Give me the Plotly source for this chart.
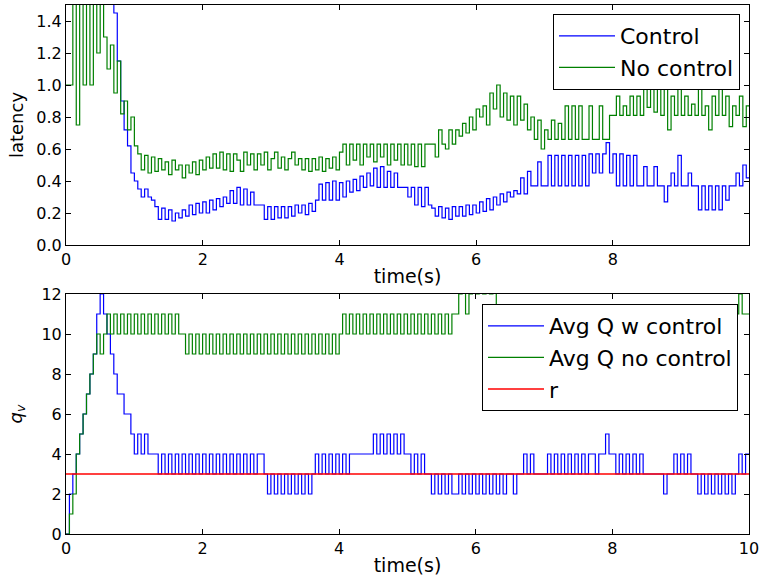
import numpy as np
import plotly.graph_objects as go

# sample times (s), step 0.05 s, plus closing point at 10 s
time_s = list(np.round(np.arange(0, 10.0, 0.05), 2)) + [10.0]

# Top panel: latency
latency_control = [
    2.0, 2.0, 2.0, 2.0, 2.0, 2.0, 2.0, 2.0, 2.0, 2.0,
    2.0, 2.0, 2.0, 2.0, 1.45, 1.15, 0.9, 0.72, 0.62, 0.45,
    0.4, 0.35, 0.3, 0.35, 0.3, 0.28, 0.24, 0.16, 0.23, 0.16,
    0.22, 0.15, 0.2, 0.17, 0.22, 0.18, 0.25, 0.19, 0.26, 0.2,
    0.27, 0.2, 0.28, 0.22, 0.29, 0.24, 0.3, 0.26, 0.34, 0.26,
    0.36, 0.25, 0.35, 0.25, 0.33, 0.25, 0.25, 0.25, 0.16, 0.24,
    0.16, 0.24, 0.17, 0.24, 0.17, 0.24, 0.18, 0.25, 0.2, 0.25,
    0.19, 0.26, 0.21, 0.28, 0.38, 0.28, 0.39, 0.28, 0.4, 0.28,
    0.39, 0.3, 0.4, 0.33, 0.41, 0.34, 0.43, 0.36, 0.45, 0.37,
    0.48, 0.36, 0.49, 0.36, 0.46, 0.36, 0.45, 0.36, 0.36, 0.36,
    0.3, 0.36, 0.25, 0.36, 0.24, 0.36, 0.25, 0.23, 0.18, 0.24,
    0.17, 0.23, 0.16, 0.24, 0.18, 0.24, 0.18, 0.25, 0.19, 0.25,
    0.2, 0.27, 0.21, 0.29, 0.22, 0.3, 0.25, 0.32, 0.27, 0.33,
    0.3, 0.34, 0.32, 0.42, 0.32, 0.46, 0.37, 0.37, 0.52, 0.37,
    0.37, 0.56, 0.37, 0.56, 0.37, 0.56, 0.37, 0.56, 0.37, 0.56,
    0.37, 0.56, 0.37, 0.57, 0.45, 0.57, 0.45, 0.57, 0.64, 0.45,
    0.57, 0.37, 0.57, 0.37, 0.56, 0.37, 0.56, 0.37, 0.37, 0.49,
    0.37, 0.37, 0.49, 0.37, 0.37, 0.27, 0.37, 0.45, 0.37, 0.56,
    0.37, 0.37, 0.45, 0.37, 0.37, 0.22, 0.37, 0.22, 0.37, 0.22,
    0.37, 0.22, 0.37, 0.28, 0.37, 0.37, 0.45, 0.37, 0.5, 0.42,
]
latency_nocontrol = [
    1.0, 1.0, 1.8, 0.75, 1.8, 1.0, 1.8, 1.0, 1.8, 1.2,
    1.6, 1.3, 1.1, 1.25, 0.95, 1.15, 0.82, 0.9, 0.72, 0.8,
    0.62, 0.57, 0.47, 0.56, 0.45, 0.55, 0.46, 0.54, 0.47, 0.52,
    0.44, 0.53, 0.47, 0.5, 0.42, 0.5, 0.45, 0.52, 0.44, 0.53,
    0.47, 0.55, 0.48, 0.57, 0.48, 0.58, 0.47, 0.57, 0.46, 0.57,
    0.53, 0.46, 0.58, 0.5, 0.57, 0.47, 0.57, 0.5, 0.58, 0.47,
    0.54, 0.58, 0.48, 0.55, 0.47, 0.54, 0.58, 0.5, 0.54, 0.47,
    0.54, 0.46, 0.54, 0.47, 0.55, 0.46, 0.54, 0.48, 0.55, 0.47,
    0.58, 0.63, 0.5, 0.63, 0.53, 0.63, 0.5, 0.63, 0.55, 0.63,
    0.52, 0.63, 0.55, 0.63, 0.5, 0.63, 0.53, 0.63, 0.5, 0.63,
    0.5, 0.63, 0.49, 0.63, 0.49, 0.63, 0.63, 0.63, 0.55, 0.72,
    0.63, 0.6, 0.72, 0.63, 0.72, 0.68, 0.76, 0.7, 0.8, 0.72,
    0.85, 0.8, 0.87, 0.75, 0.95, 0.85, 1.0, 0.8, 0.95, 0.78,
    0.93, 0.75, 0.93, 0.78, 0.88, 0.72, 0.8, 0.66, 0.78, 0.6,
    0.72, 0.66, 0.78, 0.66, 0.76, 0.66, 0.87, 0.66, 0.87, 0.66,
    0.87, 0.66, 0.66, 0.87, 0.66, 0.66, 0.87, 0.66, 0.66, 0.81,
    0.81, 0.93, 0.81, 0.87, 0.81, 0.93, 0.81, 0.93, 0.81, 1.0,
    0.86, 1.0, 0.83, 1.0, 0.81, 1.0, 0.72, 0.93, 0.81, 1.0,
    0.81, 0.93, 0.81, 0.88, 0.81, 1.0, 0.81, 0.87, 0.72, 0.93,
    0.81, 1.0, 0.81, 0.93, 0.74, 0.87, 0.81, 0.93, 0.74, 0.87,
]

# Bottom panel: average queue
q_control = [
    0, 2, 3, 4, 5, 6, 7, 8, 9, 11,
    12, 11, 10, 9, 8, 7, 7, 6, 6, 5,
    4, 5, 4, 5, 4, 4, 4, 3, 4, 3,
    4, 3, 4, 3, 4, 3, 4, 3, 4, 3,
    4, 3, 4, 3, 4, 3, 4, 3, 4, 3,
    4, 3, 4, 3, 4, 3, 4, 4, 3, 2,
    3, 2, 3, 2, 3, 2, 3, 2, 3, 2,
    3, 2, 3, 4, 3, 4, 3, 4, 3, 4,
    3, 4, 3, 4, 4, 4, 4, 4, 4, 4,
    5, 4, 5, 4, 5, 4, 5, 4, 5, 4,
    4, 3, 4, 3, 4, 3, 3, 2, 3, 2,
    3, 2, 3, 2, 2, 3, 2, 3, 2, 3,
    2, 3, 2, 3, 2, 3, 2, 3, 2, 3,
    3, 2, 3, 3, 4, 3, 4, 3, 3, 3,
    3, 4, 3, 4, 3, 4, 3, 4, 3, 4,
    3, 4, 3, 4, 4, 3, 4, 4, 5, 4,
    4, 3, 4, 3, 4, 3, 4, 3, 4, 3,
    3, 3, 3, 3, 3, 2, 3, 3, 4, 3,
    4, 3, 4, 3, 3, 2, 3, 2, 3, 2,
    3, 2, 3, 2, 3, 2, 3, 4, 3, 4,
]
q_nocontrol = [
    0, 1, 2, 4, 5, 6, 7, 8, 9, 10,
    9, 10, 11, 10, 11, 10, 11, 10, 11, 10,
    11, 10, 11, 10, 11, 10, 11, 10, 11, 10,
    11, 10, 11, 10, 10, 9, 10, 9, 10, 9,
    10, 9, 10, 9, 10, 9, 10, 9, 10, 9,
    10, 9, 10, 9, 10, 9, 10, 9, 10, 9,
    10, 9, 10, 9, 10, 9, 10, 9, 10, 9,
    10, 9, 10, 9, 10, 9, 10, 9, 10, 9,
    10, 11, 10, 11, 10, 11, 10, 11, 10, 11,
    10, 11, 10, 11, 10, 11, 10, 11, 10, 11,
    10, 11, 10, 11, 10, 11, 10, 11, 10, 11,
    10, 11, 10, 11, 11, 12, 13, 11, 12, 13,
    12, 13, 12, 13, 12, 13, 11, 11, 11, 11,
    11, 11, 11, 11, 11, 11, 11, 11, 11, 11,
    11, 11, 11, 11, 11, 11, 11, 11, 11, 11,
    11, 11, 11, 11, 11, 11, 11, 11, 11, 11,
    11, 11, 11, 11, 11, 11, 11, 11, 11, 11,
    11, 11, 11, 11, 11, 11, 11, 11, 11, 11,
    11, 11, 11, 11, 11, 11, 11, 11, 11, 11,
    11, 11, 11, 11, 11, 11, 11, 12, 11, 11,
]
r_time = [0, 10]
r_value = [3, 3]

BLUE, GREEN, RED = "#0000ff", "#008000", "#ff0000"
FONT = "DejaVu Sans"

def close(v):
    return list(v) + [v[-1]]

fig = go.Figure()
fig.add_trace(go.Scatter(x=time_s, y=close(latency_control), mode="lines", line_shape="hv",
                         line=dict(color=BLUE, width=1.2), name="Control",
                         xaxis="x", yaxis="y", legend="legend", legendgroup="a"))
fig.add_trace(go.Scatter(x=time_s, y=close(latency_nocontrol), mode="lines", line_shape="hv",
                         line=dict(color=GREEN, width=1.2), name="No control",
                         xaxis="x", yaxis="y", legend="legend", legendgroup="b"))
fig.add_trace(go.Scatter(x=time_s, y=close(q_control), mode="lines", line_shape="hv",
                         line=dict(color=BLUE, width=1.2), name="Avg Q w control",
                         xaxis="x2", yaxis="y2", legend="legend2", legendgroup="c"))
fig.add_trace(go.Scatter(x=time_s, y=close(q_nocontrol), mode="lines", line_shape="hv",
                         line=dict(color=GREEN, width=1.2), name="Avg Q no control",
                         xaxis="x2", yaxis="y2", legend="legend2", legendgroup="d"))
fig.add_trace(go.Scatter(x=r_time, y=r_value, mode="lines",
                         line=dict(color=RED, width=1.6), name="r",
                         xaxis="x2", yaxis="y2", legend="legend2", legendgroup="e"))

W, H = 761, 582
L, R, T, B = 66, 12, 5, 48
PH = H - T - B
top_dom = [(534 - 245) / PH, 1.0]
bot_dom = [0.0, (534 - 294) / PH]

axis_common = dict(showline=True, linecolor="black", linewidth=1, mirror="ticks",
                   ticks="inside", ticklen=5, tickcolor="black", showgrid=False,
                   zeroline=False, automargin=False,
                   tickfont=dict(family=FONT, size=16, color="black"))

def px_to_paper_y(py):
    return (H - B - py) / PH

def px_to_paper_x(px):
    return (px - L) / (W - L - R)

fig.update_layout(
    width=W, height=H, margin=dict(l=L, r=R, t=T, b=B, autoexpand=False),
    paper_bgcolor="white", plot_bgcolor="white",
    font=dict(family=FONT, color="black"),
    xaxis=dict(domain=[0, 1], anchor="y", range=[0, 9.99], tickvals=[0, 2, 4, 6, 8],
               title=dict(text="time(s)", font=dict(size=19), standoff=1), **axis_common),
    yaxis=dict(domain=top_dom, anchor="x", range=[0, 1.5],
               tickvals=[0, 0.2, 0.4, 0.6, 0.8, 1.0, 1.2, 1.4], tickformat=".1f",
               title=dict(text="latency", font=dict(size=18), standoff=8), **axis_common),
    xaxis2=dict(domain=[0, 1], anchor="y2", range=[0, 10], tickvals=[0, 2, 4, 6, 8, 10],
                title=dict(text="time(s)", font=dict(size=19), standoff=1), **axis_common),
    yaxis2=dict(domain=bot_dom, anchor="x2", range=[0, 12], tickvals=[0, 2, 4, 6, 8, 10, 12],
                title=dict(text="<i>q</i><sub><i>v</i></sub>", font=dict(size=18), standoff=14),
                **axis_common),
    legend=dict(x=px_to_paper_x(740), y=px_to_paper_y(14), xanchor="right", yanchor="top",
                bgcolor="white", bordercolor="black", borderwidth=1,
                font=dict(family=FONT, size=22), tracegroupgap=0, traceorder="grouped",
                itemwidth=56),
    legend2=dict(x=px_to_paper_x(738), y=px_to_paper_y(304), xanchor="right", yanchor="top",
                 bgcolor="white", bordercolor="black", borderwidth=1,
                 font=dict(family=FONT, size=22), tracegroupgap=0, traceorder="grouped",
                 itemwidth=56),
    showlegend=True,
)

fig.write_html("out.html", config={"displayModeBar": False},
               post_script="document.body.style.margin='0';document.body.style.padding='0';")
